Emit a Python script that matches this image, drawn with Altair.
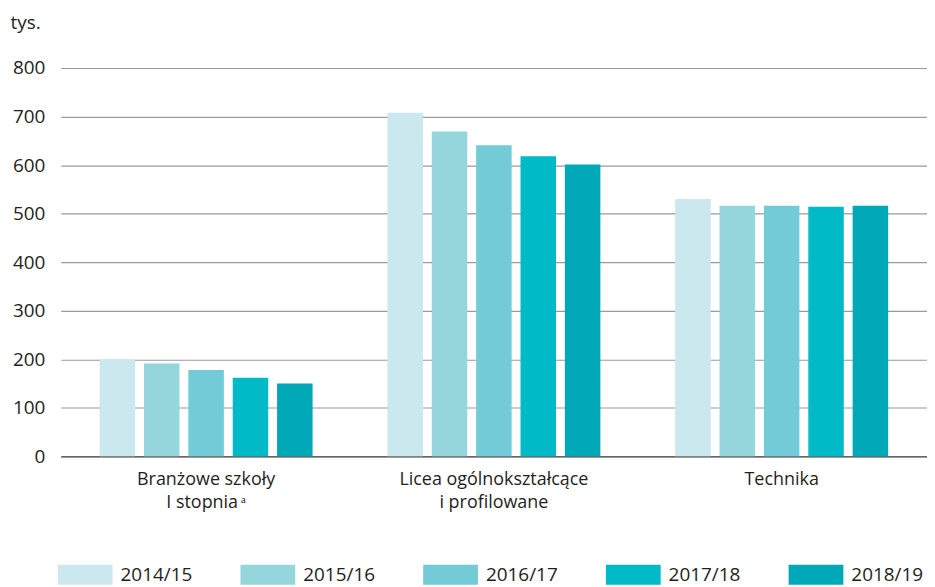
import altair as alt
import pandas as pd

categories = ["Branżowe szkoły|I stopnia\u2009\u1d43", "Licea ogólnokształcące|i profilowane", "Technika"]
years = ["2014/15", "2015/16", "2016/17", "2017/18", "2018/19"]
branzowe = [200, 191, 178, 162, 150]
licea = [708, 669, 641, 618, 601]
technika = [530, 516, 516, 514, 516]
colors = ["#cae8ee", "#95d6dd", "#72cbd6", "#00bac7", "#00a8b8"]
y_ticks = [0, 100, 200, 300, 400, 500, 600, 700, 800]

rows = []
for cat, vals in zip(categories, [branzowe, licea, technika]):
    for yr, v in zip(years, vals):
        rows.append({"kategoria": cat, "rok": yr, "wartosc": v})
df = pd.DataFrame(rows)

FONT = "Open Sans"
TXT = "#231f20"
FS = 19

chart = alt.Chart(df).mark_bar().encode(
    x=alt.X("kategoria:N", sort=categories, title=None,
            scale=alt.Scale(paddingInner=0.26, paddingOuter=0.135),
            axis=alt.Axis(labelAngle=0, labelExpr="split(datum.label, '|')",
                          labelFont=FONT, labelFontSize=FS - 1, labelColor=TXT, labelLimit=0,
                          labelLineHeight=23, labelPadding=14, ticks=False,
                          domainColor="#666666", domainWidth=1.5)),
    xOffset=alt.XOffset("rok:N", sort=years, scale=alt.Scale(paddingInner=0.2)),
    y=alt.Y("wartosc:Q", scale=alt.Scale(domain=[0, 800]),
            axis=alt.Axis(values=y_ticks, title="tys.", titleAngle=0, titleX=-51, titleY=-40,
                          titleAlign="left", titleBaseline="alphabetic", titleFont=FONT,
                          titleFontSize=FS, titleFontWeight="normal", titleColor=TXT,
                          labelFont=FONT, labelFontSize=FS, labelColor=TXT, labelPadding=16,
                          domain=False, ticks=False, gridColor="#9a9a9a", gridWidth=1.2)),
    color=alt.Color("rok:N", scale=alt.Scale(domain=years, range=colors), title=None,
                    legend=alt.Legend(orient="none", legendX=-13, legendY=499, direction="horizontal",
                                      columns=5, symbolType="M0,-1H5.5V1H0Z", symbolSize=400,
                                      symbolStrokeWidth=0, symbolOpacity=1,
                                      labelFont=FONT, labelFontSize=FS, labelColor=TXT,
                                      labelOffset=53, columnPadding=37.5)),
).properties(
    width=870, height=390,
    padding={"left": 53, "top": 59, "right": 0, "bottom": 130},
    autosize=alt.AutoSizeParams(type="none"),
).configure_view(stroke=None)

chart.save("out.html", embed_options={"renderer": "svg", "actions": False})
